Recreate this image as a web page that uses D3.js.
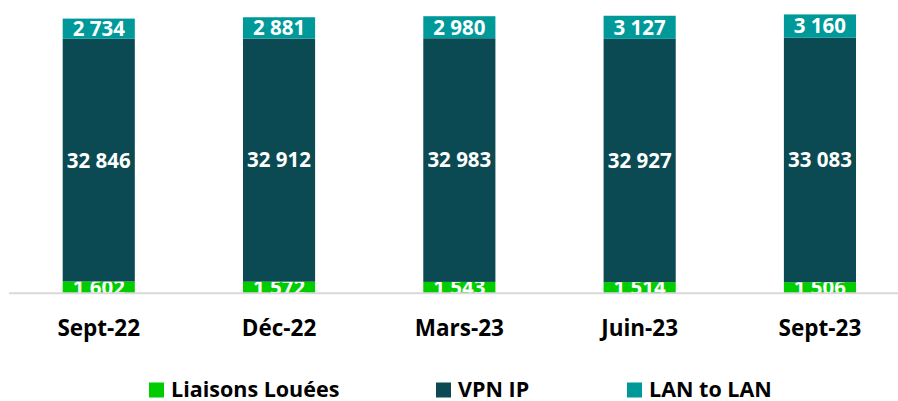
<!DOCTYPE html>
<html>
<head>
<meta charset="utf-8">
<script src="https://cdn.jsdelivr.net/npm/d3@7"></script>
<style>
  body { margin: 0; background: #fff; }
  svg { display: block; font-family: "Open Sans", sans-serif; }
</style>
</head>
<body>
<div id="chart"></div>
<script>
let width = 898;
let height = 401;

let periods = ["Sept-22", "Déc-22", "Mars-23", "Juin-23", "Sept-23"];
let liaisons = [1602, 1572, 1543, 1514, 1506];
let vpnIp = [32846, 32912, 32983, 32927, 33083];
let lanToLan = [2734, 2881, 2980, 3127, 3160];

let seriesNames = ["Liaisons Louées", "VPN IP", "LAN to LAN"];
let colors = ["#00cc00", "#0b4a52", "#00999a"];

let data = periods.map((p, i) => ({
    period: p,
    "Liaisons Louées": liaisons[i],
    "VPN IP": vpnIp[i],
    "LAN to LAN": lanToLan[i]
}));

let stack = d3.stack().keys(seriesNames)(data);

let x = d3.scaleBand()
    .domain(periods)
    .range([8.6, 910.1])
    .paddingInner(0.6)
    .paddingOuter(0.3);

let y = d3.scaleLinear()
    .domain([0, 39700])
    .range([293.3, 0]);

let color = d3.scaleOrdinal(seriesNames, colors);

let fmt = d3.formatLocale({decimal: ",", thousands: "\u00a0", grouping: [3], currency: ["", "€"]}).format(",d");

let svg = d3.select("#chart")
    .append("svg")
    .attr("width", width)
    .attr("height", height)
    .attr("viewBox", [0, 0, width, height]);

// bars
let layers = svg.append("g")
    .selectAll("g")
    .data(stack)
    .join("g")
    .attr("fill", d => color(d.key));

layers.selectAll("rect")
    .data(d => d)
    .join("rect")
    .attr("x", d => x(d.data.period))
    .attr("y", d => y(d[1]))
    .attr("width", x.bandwidth())
    .attr("height", d => y(d[0]) - y(d[1]));

// value labels
layers.selectAll("text")
    .data(d => d)
    .join("text")
    .attr("x", d => x(d.data.period) + x.bandwidth() / 2)
    .attr("y", d => (y(d[0]) + y(d[1])) / 2)
    .attr("dy", "0.36em")
    .attr("text-anchor", "middle")
    .attr("fill", "#fff")
    .attr("font-weight", "bold")
    .attr("font-size", 20.5)
    .text(d => fmt(d[1] - d[0]));

// axis line
svg.append("line")
    .attr("x1", 9)
    .attr("x2", 898)
    .attr("y1", y(0))
    .attr("y2", y(0))
    .attr("stroke", "#d9d9d9")
    .attr("stroke-width", 2);

// category labels
svg.append("g")
    .selectAll("text")
    .data(periods)
    .join("text")
    .attr("x", d => x(d) + x.bandwidth() / 2)
    .attr("y", 336)
    .attr("text-anchor", "middle")
    .attr("font-weight", "bold")
    .attr("font-size", 22.5)
    .attr("fill", "#000")
    .text(d => d);

// legend
let legendX = [149, 436, 627];
let legend = svg.append("g")
    .selectAll("g")
    .data(seriesNames)
    .join("g")
    .attr("transform", (d, i) => `translate(${legendX[i]},382.5)`);

legend.append("rect")
    .attr("width", 15)
    .attr("height", 15)
    .attr("fill", d => color(d));

legend.append("text")
    .attr("x", 22)
    .attr("y", 14)
    .attr("font-weight", "bold")
    .attr("font-size", 21.5)
    .attr("fill", "#000")
    .text(d => d);
</script>
</body>
</html>
